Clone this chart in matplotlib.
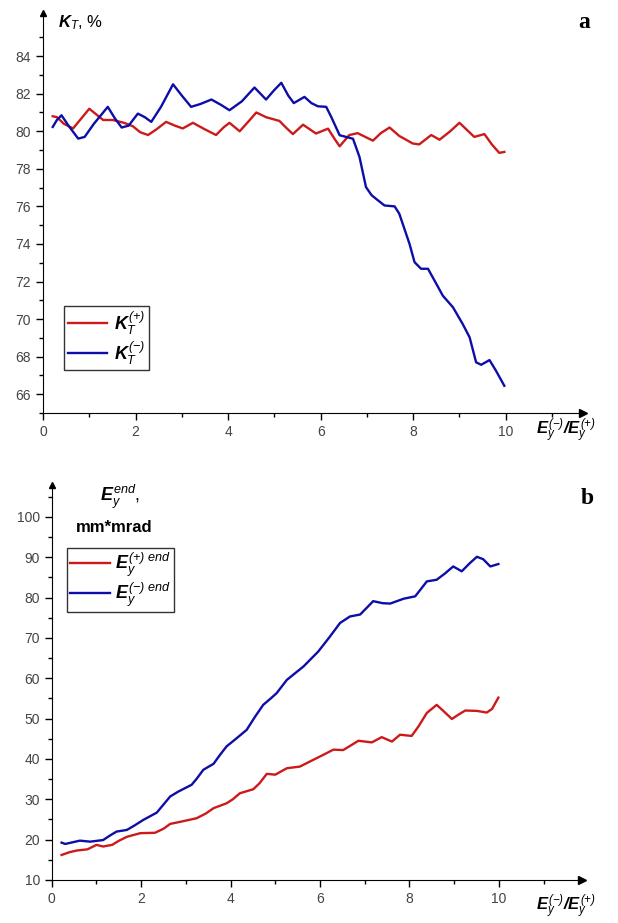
import numpy as np
import matplotlib.pyplot as plt

plt.rcParams['font.family'] = ['Liberation Sans', 'DejaVu Sans']
plt.rcParams['mathtext.fontset'] = 'custom'
plt.rcParams['mathtext.rm'] = 'Liberation Sans:bold:italic'
plt.rcParams['mathtext.it'] = 'Liberation Sans:bold:italic'
plt.rcParams['mathtext.bf'] = 'Liberation Sans:bold:italic'
plt.rcParams['mathtext.sf'] = 'Liberation Sans:italic'

# panel a: transmission coefficient K_T, %
ka_plus_x = [0.21, 0.3, 0.45, 0.65, 0.8, 1.0, 1.15, 1.3, 1.51, 1.75, 1.94, 2.1, 2.27, 2.45, 2.66, 2.85,
             3.02, 3.24, 3.5, 3.74, 3.9, 4.03, 4.25, 4.45, 4.61, 4.82, 5.11, 5.25, 5.4, 5.62, 5.9, 6.16,
             6.3, 6.41, 6.62, 6.8, 7.13, 7.3, 7.49, 7.7, 7.99, 8.13, 8.39, 8.57, 8.8, 9.0, 9.15, 9.32,
             9.54, 9.7, 9.86, 9.97]
ka_plus_y = [80.8, 80.75, 80.4, 80.15, 80.6, 81.2, 80.9, 80.6, 80.6, 80.45, 80.27, 79.95, 79.8, 80.1, 80.5, 80.3,
             80.15, 80.45, 80.1, 79.8, 80.2, 80.45, 80.0, 80.55, 81.0, 80.75, 80.55, 80.2, 79.85, 80.35, 79.88, 80.14,
             79.6, 79.2, 79.8, 79.9, 79.5, 79.9, 80.2, 79.75, 79.35, 79.3, 79.8, 79.55, 80.0, 80.45, 80.1, 79.7,
             79.85, 79.3, 78.85, 78.9]

ka_minus_x = [0.21, 0.3, 0.4, 0.55, 0.76, 0.9, 1.1, 1.4, 1.55, 1.7, 1.85, 2.05, 2.2, 2.34, 2.55, 2.81, 3.0,
              3.2, 3.4, 3.64, 3.85, 4.03, 4.3, 4.57, 4.82, 5.0, 5.15, 5.3, 5.42, 5.65, 5.8, 5.94, 6.12, 6.23,
              6.41, 6.55, 6.7, 6.84, 6.98, 7.1, 7.24, 7.38, 7.6, 7.7, 7.92, 8.03, 8.17, 8.32, 8.5, 8.64, 8.86,
              9.07, 9.22, 9.36, 9.47, 9.65, 9.79, 9.97]
ka_minus_y = [80.23, 80.6, 80.85, 80.3, 79.61, 79.7, 80.4, 81.3, 80.7, 80.2, 80.3, 80.94, 80.75, 80.5, 81.3, 82.5, 81.9,
              81.3, 81.45, 81.69, 81.4, 81.12, 81.6, 82.33, 81.69, 82.2, 82.58, 81.9, 81.5, 81.83, 81.5, 81.33, 81.3, 80.76,
              79.79, 79.7, 79.6, 78.63, 77.03, 76.6, 76.32, 76.05, 76.0, 75.61, 74.01, 73.03, 72.68, 72.68, 71.88, 71.25, 70.63,
              69.74, 69.03, 67.7, 67.57, 67.82, 67.25, 66.45]

# panel b: final emittance, mm*mrad
eb_plus_x = [0.22, 0.4, 0.56, 0.8, 1.0, 1.15, 1.35, 1.5, 1.68, 1.98, 2.31, 2.5, 2.65, 2.91, 3.24, 3.45, 3.62,
             3.91, 4.05, 4.21, 4.51, 4.65, 4.81, 5.0, 5.26, 5.55, 5.8, 6.0, 6.3, 6.52, 6.86, 7.16, 7.38, 7.61,
             7.79, 8.05, 8.2, 8.39, 8.61, 8.75, 8.95, 9.1, 9.25, 9.51, 9.73, 9.85, 9.99]
eb_plus_y = [16.2, 16.9, 17.3, 17.6, 18.7, 18.3, 18.7, 19.7, 20.7, 21.6, 21.7, 22.7, 23.9, 24.5, 25.3, 26.5, 27.8,
             29.0, 30.0, 31.5, 32.5, 34.0, 36.3, 36.1, 37.7, 38.1, 39.5, 40.6, 42.3, 42.2, 44.5, 44.1, 45.4, 44.3,
             46.0, 45.7, 48.0, 51.4, 53.4, 52.0, 49.9, 51.0, 52.0, 51.9, 51.5, 52.4, 55.2]

eb_minus_x = [0.22, 0.3, 0.45, 0.63, 0.86, 1.15, 1.3, 1.45, 1.68, 1.85, 2.05, 2.35, 2.5, 2.65, 2.83, 3.13, 3.25,
              3.39, 3.62, 3.75, 3.91, 4.1, 4.36, 4.55, 4.73, 4.9, 5.03, 5.26, 5.45, 5.63, 5.96, 6.2, 6.45, 6.67,
              6.9, 7.05, 7.19, 7.4, 7.57, 7.87, 8.13, 8.25, 8.39, 8.61, 8.8, 8.98, 9.17, 9.35, 9.51, 9.65, 9.81, 9.99]
eb_minus_y = [19.26, 18.93, 19.3, 19.75, 19.5, 19.9, 21.0, 22.0, 22.4, 23.5, 24.9, 26.7, 28.7, 30.7, 31.9, 33.6, 35.2,
              37.3, 38.8, 40.8, 43.1, 44.8, 47.2, 50.5, 53.4, 55.0, 56.3, 59.6, 61.3, 62.9, 66.6, 70.0, 73.7, 75.3,
              75.8, 77.5, 79.1, 78.6, 78.5, 79.7, 80.3, 82.0, 84.0, 84.4, 86.0, 87.7, 86.5, 88.5, 90.1, 89.5, 87.7, 88.3]

RED = '#cc1a1a'
BLUE = '#0d0da8'
TICK_COLOR = '#444444'
XLABEL = r'$E_{\mathsf{y}}^{\mathsf{(-)}}/E_{\mathsf{y}}^{\mathsf{(+)}}$'


def style_axes(ax, xmax, ymin, ymax, yticks, yminor):
    ax.set_xlim(0, xmax)
    ax.set_ylim(ymin, ymax)
    for s in ['top', 'right']:
        ax.spines[s].set_visible(False)
    ax.set_xticks([0, 2, 4, 6, 8, 10])
    ax.set_xticks([1, 3, 5, 7, 9, 11], minor=True)
    ax.set_yticks(yticks)
    ax.set_yticks(yminor, minor=True)
    ax.tick_params(which='major', length=5, width=1, labelsize=10, labelcolor=TICK_COLOR, direction='out')
    ax.tick_params(which='minor', length=3, width=1, direction='out')
    # arrows at the ends of the axes
    ax.plot(1, 0, '>k', ms=6, transform=ax.transAxes, clip_on=False)
    ax.plot(0, 1, '^k', ms=5, transform=ax.transAxes, clip_on=False)


fig = plt.figure(figsize=(6.18, 9.23), dpi=100)

# panel a
ax1 = fig.add_axes([0.0696, 0.5525, 0.873, 0.4335])
ax1.plot(ka_plus_x, ka_plus_y, color=RED, lw=1.7, label=r'$K_{\mathsf{T}}^{\mathsf{(+)}}$')
ax1.plot(ka_minus_x, ka_minus_y, color=BLUE, lw=1.7, label=r'$K_{\mathsf{T}}^{\mathsf{(-)}}$')
style_axes(ax1, 11.66, 65, 86.3, [66, 68, 70, 72, 74, 76, 78, 80, 82, 84],
           [65, 67, 69, 71, 73, 75, 77, 79, 81, 83, 85])
leg1 = ax1.legend(loc='upper left', bbox_to_anchor=(0.039, 0.268), fontsize=13, frameon=True,
                  fancybox=False, edgecolor='black', handlelength=2.2, handletextpad=0.35,
                  borderpad=0.2, borderaxespad=0, labelspacing=0.15)
leg1.get_frame().set_linewidth(1.0)
fig.text(0.094, 0.976, r'$K_{\mathsf{T}}$, %', fontsize=12, ha='left', va='center')
fig.text(0.935, 0.976, 'a', fontsize=17, family='Liberation Serif', weight='bold', ha='left', va='center')
fig.text(0.965, 0.533, XLABEL, fontsize=12, ha='right', va='center')

# panel b
ax2 = fig.add_axes([0.0837, 0.0466, 0.858, 0.428])
ax2.plot(eb_plus_x, eb_plus_y, color=RED, lw=1.7, label=r'$E_{\mathsf{y}}^{\mathsf{(+)\ end}}$')
ax2.plot(eb_minus_x, eb_minus_y, color=BLUE, lw=1.7, label=r'$E_{\mathsf{y}}^{\mathsf{(-)\ end}}$')
style_axes(ax2, 11.86, 10, 107.9, [10, 20, 30, 40, 50, 60, 70, 80, 90, 100],
           [15, 25, 35, 45, 55, 65, 75, 85, 95, 105])
leg2 = ax2.legend(loc='upper left', bbox_to_anchor=(0.029, 0.84), fontsize=13, frameon=True,
                  fancybox=False, edgecolor='black', handlelength=2.2, handletextpad=0.3,
                  borderpad=0.15, borderaxespad=0, labelspacing=0.1)
leg2.get_frame().set_linewidth(1.0)
fig.text(0.195, 0.462, r'$E_{\mathsf{y}}^{\mathsf{end}}$,', fontsize=13, ha='center', va='center')
fig.text(0.185, 0.428, 'mm*mrad', fontsize=12, weight='bold', ha='center', va='center')
fig.text(0.94, 0.46, 'b', fontsize=17, family='Liberation Serif', weight='bold', ha='left', va='center')
fig.text(0.965, 0.018, XLABEL, fontsize=12, ha='right', va='center')

fig.savefig('out.png', dpi=100)
